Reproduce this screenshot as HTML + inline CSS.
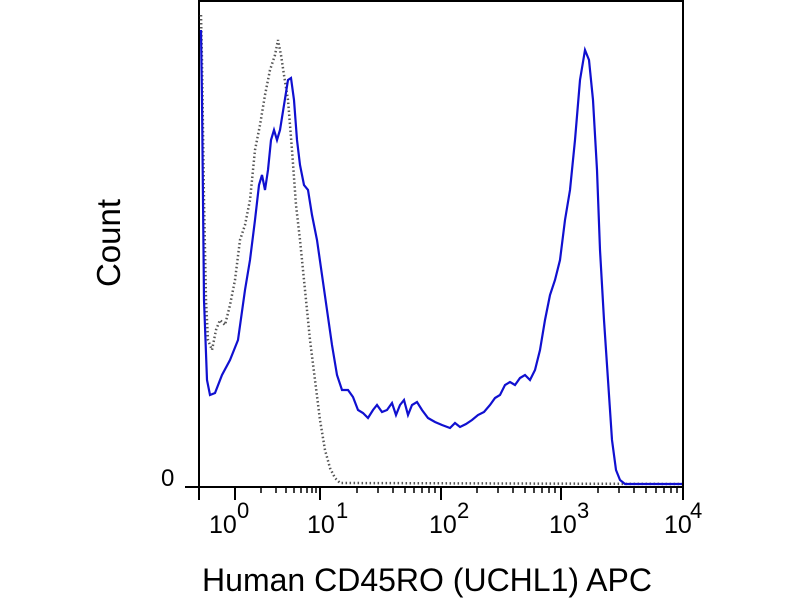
<!DOCTYPE html>
<html><head><style>body{margin:0;background:#fff}svg{display:block}text{font-family:"Liberation Sans",Arial,sans-serif;fill:#000}</style></head>
<body>
<svg width="800" height="600" viewBox="0 0 800 600">
<rect x="199" y="1" width="484" height="486" fill="none" stroke="#000" stroke-width="2"/>
<g stroke="#000" stroke-width="2">
<line x1="199" y1="487" x2="199" y2="500"/><line x1="235" y1="487" x2="235" y2="500"/><line x1="320" y1="487" x2="320" y2="500"/><line x1="441" y1="487" x2="441" y2="500"/><line x1="561" y1="487" x2="561" y2="500"/><line x1="683" y1="487" x2="683" y2="500"/>
<line x1="185" y1="487" x2="199" y2="487"/>
</g>
<g stroke="#000" stroke-width="1.5" id="minor">
<line x1="261" y1="487" x2="261" y2="493"/><line x1="276" y1="487" x2="276" y2="493"/><line x1="286" y1="487" x2="286" y2="493"/><line x1="294" y1="487" x2="294" y2="493"/><line x1="301" y1="487" x2="301" y2="493"/><line x1="307" y1="487" x2="307" y2="493"/><line x1="312" y1="487" x2="312" y2="493"/><line x1="316" y1="487" x2="316" y2="493"/>
<line x1="357" y1="487" x2="357" y2="493"/><line x1="378" y1="487" x2="378" y2="493"/><line x1="393" y1="487" x2="393" y2="493"/><line x1="405" y1="487" x2="405" y2="493"/><line x1="414" y1="487" x2="414" y2="493"/><line x1="422" y1="487" x2="422" y2="493"/><line x1="429" y1="487" x2="429" y2="493"/><line x1="435" y1="487" x2="435" y2="493"/>
<line x1="477" y1="487" x2="477" y2="493"/><line x1="498" y1="487" x2="498" y2="493"/><line x1="513" y1="487" x2="513" y2="493"/><line x1="525" y1="487" x2="525" y2="493"/><line x1="534" y1="487" x2="534" y2="493"/><line x1="542" y1="487" x2="542" y2="493"/><line x1="549" y1="487" x2="549" y2="493"/><line x1="555" y1="487" x2="555" y2="493"/>
<line x1="598" y1="487" x2="598" y2="493"/><line x1="619" y1="487" x2="619" y2="493"/><line x1="634" y1="487" x2="634" y2="493"/><line x1="646" y1="487" x2="646" y2="493"/><line x1="656" y1="487" x2="656" y2="493"/><line x1="664" y1="487" x2="664" y2="493"/><line x1="671" y1="487" x2="671" y2="493"/><line x1="677" y1="487" x2="677" y2="493"/>
</g>
<polyline fill="none" stroke="#555" stroke-width="2.5" stroke-dasharray="1.5,2.5" points="201,15 202,60 204,200 206,300 208,340 212,350 216,330 220,320 225,325 230,305 235,280 240,240 245,225 250,200 255,150 260,125 265,95 270,70 275,55 278,40 281,55 284,75 288,100 292,150 296,205 300,240 305,290 310,340 315,380 320,420 325,450 330,468 335,478 340,483 682,484"/>
<polyline fill="none" stroke="#1010d0" stroke-width="2.2" points="201,30 202,100 204,300 207,380 210,395 215,393 222,375 230,360 238,340 245,290 250,260 255,220 259,185 262,175 265,190 268,170 271,140 274,130 277,140 280,130 284,105 288,80 291,78 294,100 297,140 300,165 304,185 308,190 312,215 317,240 322,275 327,310 332,345 337,375 342,390 348,390 353,397 358,410 363,413 368,418 373,410 377,405 382,412 387,410 392,403 396,415 400,405 404,400 408,415 412,405 417,402 422,410 428,418 435,422 442,425 450,428 455,423 460,427 466,424 472,420 478,415 484,412 490,405 495,398 500,395 505,385 510,382 515,385 520,378 525,375 530,380 535,370 540,350 545,320 550,295 555,280 560,260 565,220 570,190 575,140 580,80 585,50 589,60 593,100 597,170 600,250 604,320 608,380 612,440 616,470 620,480 625,484 682,484"/>
<text x="161" y="486" font-size="24">0</text>
<g font-size="25">
<text x="209" y="533">10</text><text x="237" y="518" font-size="22">0</text>
<text x="307" y="533">10</text><text x="336" y="518" font-size="22">1</text>
<text x="429" y="533">10</text><text x="457" y="518" font-size="22">2</text>
<text x="549" y="533">10</text><text x="577" y="518" font-size="22">3</text>
<text x="664" y="533">10</text><text x="690" y="518" font-size="22">4</text>
</g>
<text transform="translate(120,243) rotate(-90)" text-anchor="middle" font-size="33">Count</text>
<text x="427" y="591" text-anchor="middle" font-size="32">Human CD45RO (UCHL1) APC</text>
</svg>
</body></html>
